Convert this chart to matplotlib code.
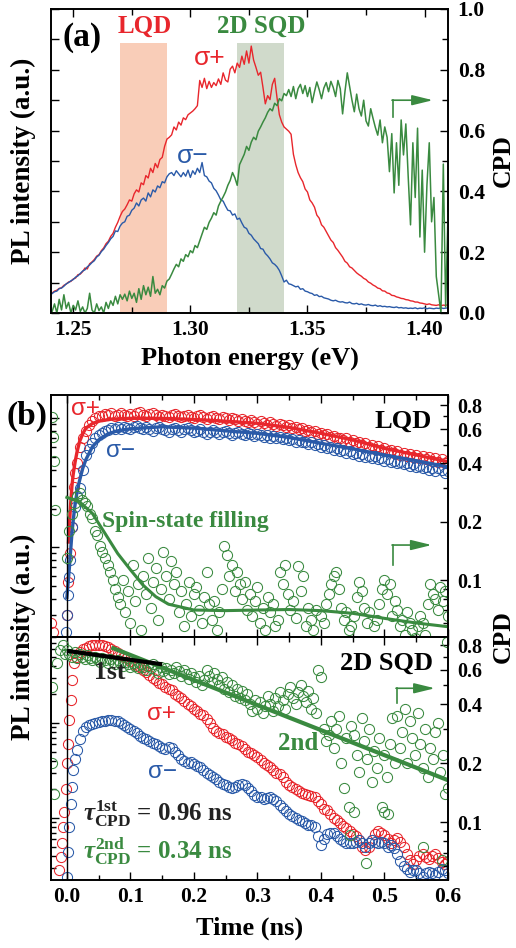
import numpy as np
import matplotlib
matplotlib.use('Agg')
import matplotlib.pyplot as plt
from matplotlib.ticker import MultipleLocator, NullFormatter, FixedLocator, FormatStrFormatter

plt.rcParams['font.family'] = ['Liberation Serif', 'DejaVu Serif']
plt.rcParams['font.weight'] = 'bold'
plt.rcParams['axes.labelweight'] = 'bold'
plt.rcParams['mathtext.fontset'] = 'custom'
plt.rcParams['mathtext.rm'] = 'Liberation Serif:bold'
plt.rcParams['mathtext.it'] = 'Liberation Serif:bold:italic'
plt.rcParams['mathtext.bf'] = 'Liberation Serif:bold'

red = '#e8262c'
blue = '#2a5aa8'
green = '#3a8a40'
band_lqd = '#f9cdb8'
band_sqd = '#d0dacb'

# ---------------- panel (a): PL spectra and CPD, 1 meV steps from 1.241 eV
energy = np.round(1.241 + 0.001 * np.arange(170), 3)
pl_plus = [0.066, 0.072, 0.075, 0.081, 0.083, 0.091, 0.095, 0.102, 0.104, 0.112,
           0.115, 0.126, 0.128, 0.136, 0.148, 0.145, 0.162, 0.168, 0.176, 0.187,
           0.192, 0.205, 0.214, 0.228, 0.236, 0.252, 0.262, 0.282, 0.298, 0.318,
           0.334, 0.342, 0.356, 0.372, 0.368, 0.392, 0.405, 0.398, 0.428, 0.422,
           0.452, 0.444, 0.476, 0.462, 0.492, 0.478, 0.505, 0.512, 0.548, 0.572,
           0.578, 0.586, 0.612, 0.602, 0.628, 0.618, 0.642, 0.636, 0.652, 0.658,
           0.664, 0.672, 0.682, 0.765, 0.742, 0.772, 0.738, 0.762, 0.742, 0.758,
           0.748, 0.770, 0.752, 0.790, 0.766, 0.760, 0.802, 0.812, 0.790, 0.822,
           0.808, 0.845, 0.818, 0.862, 0.822, 0.878, 0.832, 0.808, 0.782, 0.792,
           0.742, 0.688, 0.715, 0.702, 0.752, 0.772, 0.708, 0.652, 0.628, 0.612,
           0.605, 0.598, 0.588, 0.522, 0.488, 0.462, 0.445, 0.432, 0.408, 0.398,
           0.372, 0.362, 0.348, 0.322, 0.312, 0.290, 0.282, 0.268, 0.254, 0.240,
           0.232, 0.215, 0.206, 0.195, 0.184, 0.170, 0.164, 0.152, 0.148, 0.140,
           0.132, 0.126, 0.121, 0.114, 0.110, 0.102, 0.098, 0.092, 0.088, 0.082,
           0.080, 0.073, 0.072, 0.066, 0.064, 0.058, 0.057, 0.053, 0.051, 0.048,
           0.047, 0.044, 0.043, 0.040, 0.039, 0.036, 0.036, 0.033, 0.032, 0.030,
           0.028, 0.030, 0.027, 0.026, 0.025, 0.027, 0.024, 0.026, 0.025, 0.028]
pl_minus = [0.064, 0.070, 0.072, 0.080, 0.082, 0.088, 0.096, 0.100, 0.106, 0.110,
            0.118, 0.122, 0.130, 0.138, 0.142, 0.152, 0.158, 0.166, 0.172, 0.184,
            0.190, 0.202, 0.210, 0.222, 0.232, 0.244, 0.252, 0.270, 0.268, 0.286,
            0.296, 0.300, 0.318, 0.322, 0.338, 0.345, 0.362, 0.352, 0.372, 0.378,
            0.368, 0.395, 0.382, 0.405, 0.398, 0.418, 0.412, 0.432, 0.428, 0.448,
            0.458, 0.462, 0.452, 0.468, 0.458, 0.448, 0.462, 0.450, 0.470, 0.446,
            0.468, 0.456, 0.476, 0.462, 0.495, 0.452, 0.448, 0.434, 0.428, 0.410,
            0.402, 0.388, 0.372, 0.368, 0.352, 0.338, 0.336, 0.322, 0.326, 0.308,
            0.312, 0.296, 0.282, 0.278, 0.262, 0.256, 0.244, 0.236, 0.228, 0.212,
            0.210, 0.196, 0.188, 0.178, 0.165, 0.160, 0.152, 0.140, 0.122, 0.102,
            0.108, 0.096, 0.094, 0.090, 0.086, 0.088, 0.078, 0.080, 0.072, 0.070,
            0.066, 0.064, 0.058, 0.060, 0.054, 0.055, 0.050, 0.048, 0.046, 0.042,
            0.040, 0.042, 0.038, 0.036, 0.037, 0.034, 0.033, 0.036, 0.031, 0.030,
            0.032, 0.028, 0.030, 0.027, 0.026, 0.028, 0.025, 0.024, 0.026, 0.022,
            0.024, 0.021, 0.022, 0.020, 0.021, 0.019, 0.018, 0.020, 0.017, 0.018,
            0.016, 0.017, 0.015, 0.016, 0.015, 0.017, 0.014, 0.016, 0.015, 0.017,
            0.014, 0.016, 0.015, 0.014, 0.016, 0.015, 0.017, 0.015, 0.016, 0.017]
cpd_a = [0.005, 0.030, 0.000, 0.045, 0.010, 0.060, 0.015, 0.035, 0.000, 0.025,
         0.010, 0.040, 0.005, 0.020, 0.000, 0.015, 0.065, 0.010, 0.000, 0.030,
         0.008, 0.020, 0.000, 0.035, 0.015, 0.040, 0.025, 0.055, 0.030, 0.060,
         0.045, 0.062, 0.040, 0.072, 0.048, 0.065, 0.035, 0.080, 0.045, 0.090,
         0.060, 0.085, 0.055, 0.120, 0.065, 0.078, 0.060, 0.090, 0.082, 0.105,
         0.112, 0.128, 0.145, 0.160, 0.152, 0.178, 0.170, 0.192, 0.185, 0.205,
         0.198, 0.222, 0.215, 0.238, 0.260, 0.282, 0.275, 0.298, 0.312, 0.330,
         0.322, 0.352, 0.368, 0.382, 0.398, 0.420, 0.436, 0.462, 0.445, 0.420,
         0.488, 0.505, 0.522, 0.548, 0.535, 0.562, 0.578, 0.570, 0.598, 0.612,
         0.628, 0.642, 0.660, 0.672, 0.665, 0.690, 0.682, 0.705, 0.698, 0.722,
         0.715, 0.735, 0.712, 0.745, 0.705, 0.738, 0.752, 0.722, 0.748, 0.712,
         0.742, 0.692, 0.728, 0.760, 0.735, 0.705, 0.740, 0.758, 0.728, 0.762,
         0.742, 0.712, 0.765, 0.738, 0.655, 0.728, 0.790, 0.745, 0.700, 0.662,
         0.720, 0.672, 0.648, 0.700, 0.632, 0.615, 0.672, 0.640, 0.610, 0.585,
         0.635, 0.560, 0.612, 0.578, 0.465, 0.590, 0.395, 0.560, 0.420, 0.635,
         0.520, 0.622, 0.450, 0.290, 0.560, 0.380, 0.608, 0.250, 0.470, 0.200,
         0.420, 0.560, 0.300, 0.380, 0.120, 0.060, 0.000, 0.490, 0.020, 0.330]

# ---------------- panel (b) top: LQD
red_top_t0 = [-0.025, -0.022, 0.0, 0.0025, 0.005, 0.0078, 0.0105, 0.013, 0.016, 0.021, 0.025]
red_top_v0 = [0.026, 0.022, 0.03, 0.054, 0.09, 0.145, 0.295, 0.38, 0.45, 0.60, 0.70]
red_top = [0.80, 0.88, 0.95, 1.00, 1.04, 1.04, 1.08, 1.06, 1.09, 1.05,
           1.07, 1.10, 1.06, 1.04, 1.08, 1.05, 1.09, 1.12, 1.07, 1.05,
           1.08, 1.10, 1.06, 1.03, 1.07, 1.05, 1.02, 1.06, 1.08, 1.04,
           1.02, 1.05, 1.07, 1.03, 1.01, 1.04, 1.06, 1.02, 0.99, 1.03,
           1.05, 1.01, 0.98, 1.02, 1.00, 0.97, 1.01, 0.99, 0.95, 0.98,
           0.96, 0.93, 0.97, 0.94, 0.91, 0.95, 0.92, 0.89, 0.93, 0.90,
           0.87, 0.90, 0.88, 0.85, 0.88, 0.84, 0.86, 0.82, 0.84, 0.80,
           0.81, 0.78, 0.80, 0.76, 0.77, 0.74, 0.76, 0.72, 0.73, 0.70,
           0.71, 0.68, 0.70, 0.66, 0.68, 0.64, 0.65, 0.62, 0.64, 0.60,
           0.62, 0.58, 0.61, 0.57, 0.59, 0.56, 0.57, 0.54, 0.56, 0.52,
           0.54, 0.51, 0.53, 0.50, 0.52, 0.49, 0.51, 0.48, 0.50, 0.47,
           0.49, 0.46, 0.48, 0.45, 0.47]
blue_top_t0 = [-0.002, 0.0, 0.002, 0.003, 0.005, 0.008, 0.012, 0.016, 0.020, 0.025]
blue_top_v0 = [0.022, 0.03, 0.043, 0.059, 0.08, 0.145, 0.206, 0.25, 0.29, 0.40]
blue_top = [0.52, 0.58, 0.64, 0.70, 0.74, 0.77, 0.80, 0.81, 0.84, 0.83,
            0.85, 0.83, 0.86, 0.84, 0.82, 0.85, 0.87, 0.84, 0.82, 0.85,
            0.83, 0.80, 0.84, 0.86, 0.83, 0.81, 0.79, 0.82, 0.84, 0.81,
            0.79, 0.82, 0.84, 0.81, 0.78, 0.80, 0.82, 0.79, 0.76, 0.79,
            0.81, 0.78, 0.76, 0.79, 0.80, 0.77, 0.74, 0.77, 0.79, 0.76,
            0.74, 0.77, 0.75, 0.73, 0.76, 0.74, 0.72, 0.74, 0.71, 0.73,
            0.70, 0.72, 0.69, 0.71, 0.68, 0.69, 0.66, 0.68, 0.65, 0.66,
            0.63, 0.65, 0.62, 0.63, 0.60, 0.62, 0.59, 0.60, 0.57, 0.59,
            0.56, 0.57, 0.54, 0.56, 0.53, 0.54, 0.51, 0.53, 0.50, 0.51,
            0.49, 0.51, 0.48, 0.49, 0.47, 0.48, 0.46, 0.47, 0.45, 0.46,
            0.44, 0.45, 0.43, 0.44, 0.42, 0.43, 0.41, 0.42, 0.40, 0.41,
            0.39, 0.41, 0.40, 0.38, 0.39]
red_fit_t = [0.0025, 0.004, 0.006, 0.008, 0.010, 0.013, 0.016, 0.020, 0.025, 0.03,
             0.04, 0.05, 0.07, 0.1, 0.15, 0.2, 0.25, 0.3, 0.35, 0.4, 0.45, 0.5, 0.55, 0.6]
red_fit = [0.11, 0.15, 0.22, 0.30, 0.37, 0.46, 0.55, 0.66, 0.76, 0.84,
           0.91, 0.95, 0.985, 1.0, 1.0, 0.98, 0.95, 0.915, 0.85, 0.765, 0.68, 0.585, 0.52, 0.461]
blue_fit_t = [0.0, 0.004, 0.008, 0.012, 0.016, 0.02, 0.025, 0.03, 0.04, 0.05,
              0.065, 0.08, 0.1, 0.15, 0.2, 0.25, 0.3, 0.35, 0.4, 0.45, 0.5, 0.55, 0.6]
blue_fit = [0.041, 0.07, 0.13, 0.2, 0.27, 0.33, 0.41, 0.48, 0.60, 0.68,
            0.76, 0.80, 0.83, 0.86, 0.84, 0.80, 0.765, 0.71, 0.64, 0.58, 0.52, 0.47, 0.42]
cpd_top_t0 = [-0.023, -0.022, -0.021, -0.019]
cpd_top_v0 = [0.69, 0.55, 0.41, 0.23]
cpd_top = [0.13, 0.18, 0.22, 0.25, 0.27, 0.28, 0.26, 0.25, 0.24, 0.22,
           0.21, 0.18, 0.17, 0.15, 0.14, 0.13, 0.12, 0.11, 0.10, 0.09,
           0.082, 0.075, 0.10, 0.068, 0.088, 0.06, 0.12, 0.078, 0.095, 0.055,
           0.105, 0.085, 0.13, 0.072, 0.098, 0.115, 0.062, 0.09, 0.14, 0.105,
           0.08, 0.125, 0.095, 0.11, 0.068, 0.088, 0.058, 0.075, 0.098, 0.065,
           0.085, 0.092, 0.07, 0.06, 0.082, 0.11, 0.075, 0.062, 0.078, 0.055,
           0.068, 0.09, 0.15, 0.135, 0.105, 0.12, 0.088, 0.11, 0.095, 0.08,
           0.098, 0.07, 0.085, 0.065, 0.078, 0.092, 0.06, 0.072, 0.055, 0.082,
           0.068, 0.075, 0.058, 0.062, 0.11, 0.095, 0.12, 0.085, 0.07, 0.078,
           0.064, 0.118, 0.088, 0.105, 0.058, 0.072, 0.062, 0.055, 0.07, 0.048,
           0.065, 0.06, 0.075, 0.085, 0.095, 0.105, 0.11, 0.09, 0.072, 0.062,
           0.068, 0.055, 0.058, 0.065, 0.082, 0.098, 0.088, 0.072, 0.06, 0.068,
           0.048, 0.058, 0.062, 0.075, 0.09, 0.10, 0.085, 0.095, 0.065, 0.078,
           0.07, 0.058, 0.062, 0.052, 0.068, 0.06, 0.055, 0.05, 0.058, 0.065,
           0.06, 0.052, 0.075, 0.095, 0.085, 0.08, 0.07, 0.092, 0.078, 0.088,
           0.065]
cpd_top_fit_t = [0.0, 0.02, 0.04, 0.06, 0.08, 0.1, 0.12, 0.14, 0.16, 0.2,
                 0.25, 0.3, 0.35, 0.4, 0.45, 0.5, 0.55, 0.6]
cpd_top_fit = [0.267, 0.253, 0.221, 0.174, 0.137, 0.113, 0.094, 0.082, 0.075, 0.070,
               0.0695, 0.070, 0.0704, 0.0695, 0.0673, 0.0634, 0.060, 0.0574]

# ---------------- panel (b) bottom: 2D SQD
red_bot_t0 = [-0.012, -0.010, -0.008, -0.006, -0.004, -0.002, 0.0, 0.002, 0.004,
              0.006, 0.008, 0.011, 0.015, 0.020, 0.025]
red_bot_v0 = [0.028, 0.039, 0.054, 0.081, 0.116, 0.2, 0.38, 0.6, 1.07,
              1.75, 2.83, 4.25, 5.0, 5.6, 6.0]
red_bot = [6.2, 6.4, 6.6, 6.7, 6.7, 6.6, 6.5, 6.3, 6.0, 5.7,
           5.4, 5.2, 4.95, 4.8, 4.5, 4.2, 4.0, 3.9, 3.6, 3.4,
           3.2, 3.0, 2.85, 2.65, 2.55, 2.4, 2.3, 2.2, 2.0, 1.9,
           1.82, 1.7, 1.58, 1.5, 1.42, 1.35, 1.25, 1.2, 1.1, 1.0,
           0.88, 0.82, 0.78, 0.76, 0.72, 0.7, 0.66, 0.62, 0.6, 0.57,
           0.53, 0.5, 0.48, 0.46, 0.44, 0.41, 0.38, 0.36, 0.34, 0.32,
           0.3, 0.29, 0.27, 0.24, 0.22, 0.21, 0.2, 0.19, 0.185, 0.18,
           0.175, 0.17, 0.165, 0.15, 0.14, 0.125, 0.12, 0.11, 0.1, 0.095,
           0.088, 0.083, 0.078, 0.073, 0.068, 0.064, 0.058, 0.05, 0.046, 0.05,
           0.058, 0.068, 0.072, 0.07, 0.066, 0.06, 0.055, 0.058, 0.062, 0.056,
           0.05, 0.042, 0.036, 0.033, 0.036, 0.04, 0.042, 0.039, 0.037, 0.04,
           0.042, 0.038, 0.034, 0.033, 0.035]
blue_bot_t0 = [-0.004, -0.002, 0.0, 0.002, 0.004, 0.006, 0.008, 0.010, 0.013,
               0.016, 0.020, 0.025]
blue_bot_v0 = [0.018, 0.02, 0.024, 0.044, 0.08, 0.14, 0.21, 0.32, 0.42,
               0.52, 0.68, 0.82]
blue_bot = [0.9, 0.95, 0.98, 1.0, 1.02, 1.04, 1.06, 1.08, 1.07, 1.05,
            1.04, 1.0, 0.95, 0.9, 0.86, 0.82, 0.78, 0.73, 0.7, 0.67,
            0.65, 0.62, 0.6, 0.57, 0.54, 0.53, 0.56, 0.54, 0.5, 0.46,
            0.42, 0.4, 0.38, 0.39, 0.37, 0.35, 0.34, 0.32, 0.3, 0.285,
            0.27, 0.255, 0.24, 0.23, 0.22, 0.21, 0.205, 0.21, 0.22, 0.225,
            0.22, 0.205, 0.19, 0.175, 0.168, 0.165, 0.16, 0.162, 0.165, 0.16,
            0.15, 0.138, 0.128, 0.118, 0.11, 0.105, 0.1, 0.096, 0.092, 0.088,
            0.085, 0.084, 0.08, 0.065, 0.052, 0.06, 0.068, 0.07, 0.069, 0.064,
            0.06, 0.057, 0.055, 0.054, 0.054, 0.056, 0.058, 0.055, 0.05, 0.054,
            0.058, 0.056, 0.054, 0.056, 0.055, 0.05, 0.052, 0.048, 0.042, 0.035,
            0.031, 0.029, 0.027, 0.028, 0.028, 0.026, 0.024, 0.026, 0.027, 0.026,
            0.025, 0.027, 0.029, 0.028, 0.026]
cpd_bot_t0 = [-0.024, -0.023, -0.021, -0.016, -0.011, -0.006, -0.003]
cpd_bot_v0 = [0.49, 0.20, 0.14, 0.65, 0.76, 0.80, 0.72]
cpd_bot = [0.76, 0.72, 0.70, 0.74, 0.69, 0.72, 0.70, 0.68, 0.71, 0.69,
           0.67, 0.70, 0.68, 0.66, 0.69, 0.67, 0.65, 0.68, 0.66, 0.64,
           0.67, 0.65, 0.63, 0.66, 0.64, 0.62, 0.65, 0.63, 0.61, 0.64,
           0.62, 0.60, 0.63, 0.61, 0.64, 0.60, 0.58, 0.62, 0.59, 0.61,
           0.57, 0.60, 0.58, 0.62, 0.59, 0.56, 0.60, 0.57, 0.54, 0.58,
           0.55, 0.52, 0.56, 0.50, 0.53, 0.60, 0.56, 0.52, 0.58, 0.54,
           0.50, 0.55, 0.48, 0.52, 0.46, 0.50, 0.44, 0.48, 0.43, 0.47,
           0.42, 0.45, 0.40, 0.37, 0.42, 0.38, 0.41, 0.36, 0.39, 0.44,
           0.40, 0.37, 0.43, 0.39, 0.46, 0.42, 0.38, 0.45, 0.49, 0.43,
           0.40, 0.46, 0.50, 0.44, 0.41, 0.47, 0.38, 0.43, 0.36, 0.60,
           0.55, 0.30, 0.26, 0.28, 0.33, 0.24, 0.30, 0.35, 0.20, 0.15,
           0.27, 0.12, 0.31, 0.28, 0.22, 0.18, 0.34, 0.26, 0.21, 0.30,
           0.16, 0.23, 0.19, 0.27, 0.12, 0.22, 0.17, 0.25, 0.34, 0.20,
           0.35, 0.24, 0.29, 0.38, 0.20, 0.33, 0.27, 0.22, 0.36, 0.25,
           0.19, 0.30, 0.17, 0.24, 0.21, 0.29, 0.32, 0.18, 0.22, 0.14,
           0.15]
cpd_bot_extra_t = [0.445, 0.452, 0.471, 0.50, 0.505, 0.56, 0.59, 0.598]
cpd_bot_extra_v = [0.086, 0.113, 0.062, 0.113, 0.11, 0.075, 0.064, 0.83]
fit1_t = [0.0, 0.15]
fit1 = [0.75, 0.64]      # tau = 0.96 ns
fit2_t = [0.07, 0.6]
fit2 = [0.78, 0.164]     # tau = 0.34 ns

t_pl = np.round(0.03 + 0.005 * np.arange(115), 3)
t_cpd = np.round(0.004 * np.arange(151), 3)

fig = plt.figure(figsize=(5.16, 9.48), dpi=100)

# ======================= (a)
axA = fig.add_axes([51/516, 1-313/948, 397/516, 304/948])
axA.axvspan(1.27, 1.29, ymin=0, ymax=0.889, color=band_lqd, lw=0)
axA.axvspan(1.32, 1.34, ymin=0, ymax=0.889, color=band_sqd, lw=0)
axA.plot(energy, pl_plus, color=red, lw=1.0)
axA.plot(energy, pl_minus, color=blue, lw=1.0)
axA.set_xlim(1.2405, 1.41)
axA.set_ylim(0, 1)
axA2 = axA.twinx()
axA2.plot(energy, cpd_a, color=green, lw=1.1)
axA2.set_ylim(0, 1)

axA.xaxis.set_major_locator(MultipleLocator(0.05))
axA.xaxis.set_minor_locator(MultipleLocator(0.025))
axA.xaxis.set_major_formatter(FormatStrFormatter('%.2f'))
axA.yaxis.set_major_locator(MultipleLocator(0.1))
axA.yaxis.set_major_formatter(NullFormatter())
axA.tick_params(axis='both', which='both', direction='in', top=True, labelsize=15.5, pad=5)
axA.tick_params(which='major', length=6, width=1)
axA.tick_params(which='minor', length=4, width=1)
axA2.yaxis.set_major_locator(MultipleLocator(0.2))
axA2.yaxis.set_minor_locator(MultipleLocator(0.1))
axA2.yaxis.set_major_formatter(FormatStrFormatter('%.1f'))
axA2.tick_params(axis='y', which='both', direction='in', labelsize=15.5, pad=7)
axA2.tick_params(which='major', length=6, width=1)
axA2.tick_params(which='minor', length=4, width=1)
for a in (axA, axA2):
    for s in a.spines.values():
        s.set_linewidth(1.2)

axA.set_xlabel('Photon energy (eV)', fontsize=19, labelpad=5)
axA2.text(0.03, 0.905, '(a)', transform=axA2.transAxes, fontsize=24, va='center', ha='left')
axA2.text(0.236, 0.942, 'LQD', transform=axA2.transAxes, fontsize=18, color=red, ha='center', va='center')
axA2.text(0.5285, 0.942, '2D SQD', transform=axA2.transAxes, fontsize=18, color=green, ha='center', va='center')
axA2.text(0.399, 0.838, 'σ+', transform=axA2.transAxes, fontsize=19, color=red, ha='center', va='center',
          family=['Liberation Sans', 'DejaVu Sans'], weight='normal')
axA2.text(0.358, 0.517, 'σ−', transform=axA2.transAxes, fontsize=19, color=blue, ha='center', va='center',
          family=['Liberation Sans', 'DejaVu Sans'], weight='normal')
fig.text(23/516, 1-161/948, 'PL intensity (a.u.)', rotation=90, fontsize=19.5, ha='center', va='center')
fig.text(503/516, 1-161/948, 'CPD', rotation=90, fontsize=18.5, ha='center', va='center')


def corner_arrow(ax, x0, y0, y1, x1):
    ax.plot([x0, x0], [y0, y1], color=green, lw=1.2, transform=ax.transAxes, clip_on=False)
    ax.annotate('', xy=(x1, y1), xytext=(x0 - 0.002, y1), xycoords='axes fraction',
                arrowprops=dict(arrowstyle='-|>,head_length=0.9,head_width=0.22',
                                color=green, lw=1.2, mutation_scale=14, shrinkA=0, shrinkB=0))


corner_arrow(axA2, 0.861, 0.645, 0.70, 0.962)

# ======================= (b)
axT = fig.add_axes([51/516, 1-637/948, 397/516, 242/948])
axB = fig.add_axes([51/516, 1-880/948, 397/516, 243/948], sharex=axT)

mk = dict(ls='none', marker='o', mfc='none', ms=7.3, mew=0.75)

axT.plot(red_top_t0 + list(t_pl), red_top_v0 + red_top, mec=red, **mk)
axT.plot(blue_top_t0 + list(t_pl), blue_top_v0 + blue_top, mec=blue, **mk)
axT.plot(red_fit_t, red_fit, color=red, lw=2.4)
axT.plot(blue_fit_t, blue_fit, color=blue, lw=2.4)
axT.set_yscale('log')
axT.set_ylim(0.0202, 1.516)
axT.axvline(0, color='k', lw=1.0)
axT2 = axT.twinx()
axT2.plot(cpd_top_t0 + list(t_cpd), cpd_top_v0 + cpd_top, mec=green, **mk)
axT2.plot(cpd_top_fit_t, cpd_top_fit, color=green, lw=2.2)
axT2.set_yscale('log')
axT2.set_ylim(0.0508, 0.901)

axB.plot(red_bot_t0 + list(t_pl), red_bot_v0 + red_bot, mec=red, **mk)
axB.plot(blue_bot_t0 + list(t_pl), blue_bot_v0 + blue_bot, mec=blue, **mk)
axB.set_yscale('log')
axB.set_ylim(0.0222, 8.04)
axB.axvline(0, color='k', lw=1.0)
axB2 = axB.twinx()
axB2.plot(cpd_bot_t0 + list(t_cpd) + cpd_bot_extra_t, cpd_bot_v0 + cpd_bot + cpd_bot_extra_v,
          mec=green, **mk)
axB2.plot(fit2_t, fit2, color=green, lw=3.0, solid_capstyle='butt')
axB2.plot(fit1_t, fit1, color='k', lw=3.0, solid_capstyle='butt')
axB2.set_yscale('log')
axB2.set_ylim(0.0508, 0.882)

axB.set_xlim(-0.025, 0.6)
for a in (axT, axB):
    a.xaxis.set_major_locator(MultipleLocator(0.1))
    a.xaxis.set_minor_locator(MultipleLocator(0.05))
    a.xaxis.set_major_formatter(FormatStrFormatter('%.1f'))
    a.yaxis.set_major_formatter(NullFormatter())
    a.yaxis.set_minor_formatter(NullFormatter())
    a.tick_params(axis='both', which='both', direction='in', top=True, labelsize=15.5, pad=5)
    a.tick_params(which='major', length=6, width=1)
    a.tick_params(which='minor', length=3.5, width=1)
axT.tick_params(axis='x', which='both', labelbottom=False)
for a in (axT2, axB2):
    a.yaxis.set_major_locator(FixedLocator([0.1, 0.2, 0.4, 0.6, 0.8]))
    a.yaxis.set_minor_locator(FixedLocator([0.06, 0.07, 0.08, 0.09, 0.3, 0.5, 0.7]))
    a.yaxis.set_major_formatter(FormatStrFormatter('%.1f'))
    a.yaxis.set_minor_formatter(NullFormatter())
    a.tick_params(axis='y', which='both', direction='in', labelsize=14.5, pad=7)
    a.tick_params(which='major', length=6, width=1)
    a.tick_params(which='minor', length=3.5, width=1)
for a in (axT, axT2, axB, axB2):
    for s in a.spines.values():
        s.set_linewidth(1.2)

axB.set_xlabel('Time (ns)', fontsize=19, labelpad=7)
fig.text(23/516, 1-637/948, 'PL intensity (a.u.)', rotation=90, fontsize=19.5, ha='center', va='center')
fig.text(503/516, 1-637/948, 'CPD', rotation=90, fontsize=18.5, ha='center', va='center')
fig.text(0.013, 1-416.7/948, '(b)', fontsize=24, ha='left', va='center')

sans = dict(family=['Liberation Sans', 'DejaVu Sans'], weight='normal')
axT2.text(0.0877, 0.941, 'σ+', transform=axT2.transAxes, fontsize=17.5, color=red, ha='center', va='center', **sans)
axT2.text(0.174, 0.769, 'σ−', transform=axT2.transAxes, fontsize=17.5, color=blue, ha='center', va='center', **sans)
axT2.text(0.959, 0.89, 'LQD', transform=axT2.transAxes, fontsize=19, color='k', ha='right', va='center')
axT2.text(0.128, 0.479, 'Spin-state filling', transform=axT2.transAxes, fontsize=17, color=green,
          ha='left', va='center')
corner_arrow(axT2, 0.861, 0.2975, 0.380, 0.959)

axB2.text(0.962, 0.892, '2D SQD', transform=axB2.transAxes, fontsize=19, color='k', ha='right', va='center')
axB2.text(0.149, 0.854, '1st', transform=axB2.transAxes, fontsize=18.5, color='#222222', ha='center', va='center')
axB2.text(0.279, 0.682, 'σ+', transform=axB2.transAxes, fontsize=17.5, color=red, ha='center', va='center', **sans)
axB2.text(0.281, 0.446, 'σ−', transform=axB2.transAxes, fontsize=17.5, color=blue, ha='center', va='center', **sans)
axB2.text(0.623, 0.5625, '2nd', transform=axB2.transAxes, fontsize=18, color=green, ha='center', va='center')
axB2.text(0.081, 0.272, r'$\tau^{\mathrm{1st}}_{\mathrm{CPD}}$ = 0.96 ns', transform=axB2.transAxes,
          fontsize=18, color='#222222', ha='left', va='center')
axB2.text(0.081, 0.119, r'$\tau^{\mathrm{2nd}}_{\mathrm{CPD}}$ = 0.34 ns', transform=axB2.transAxes,
          fontsize=18, color=green, ha='left', va='center')
corner_arrow(axB2, 0.871, 0.727, 0.789, 0.967)

fig.savefig('out.png', dpi=100)
